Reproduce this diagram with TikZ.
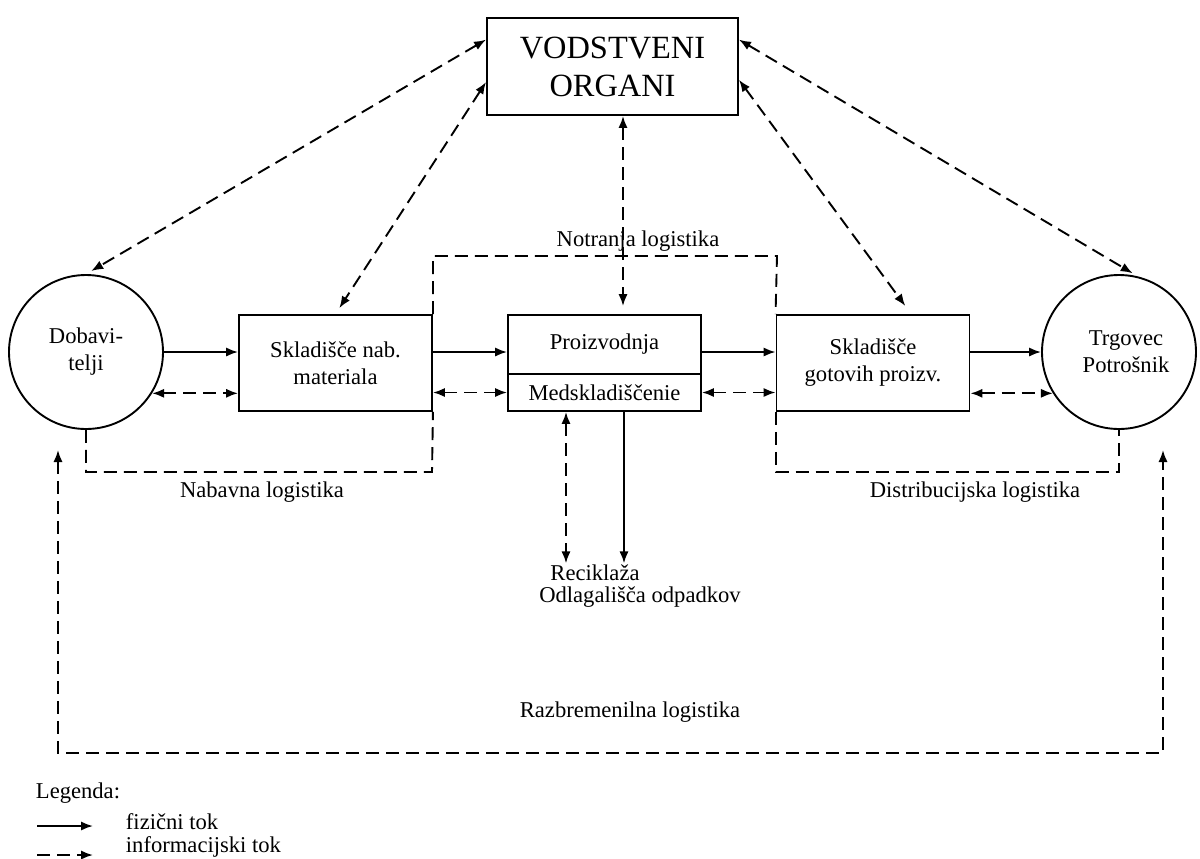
\documentclass[tikz,border=0pt]{standalone}
\usepackage{fontspec}
\setmainfont{Liberation Serif}
\usetikzlibrary{arrows.meta}
\newcommand{\lbltxt}{\fontsize{11.3}{13.5}\selectfont}

\begin{document}
\begin{tikzpicture}[x=0.5pt,y=-0.5pt,line width=0.95pt,
  >={Latex[length=6pt,width=4.6pt]},
  box/.style={draw,rectangle,align=center,minimum width=96.5pt,inner sep=2pt,font=\lbltxt},
  ring/.style={draw,circle,align=center,minimum size=77pt,inner sep=0pt,font=\lbltxt},
  bigbox/.style={draw,rectangle,align=center,minimum width=125.5pt,minimum height=48.5pt,
    inner sep=0pt,font=\fontsize{16.2}{19}\selectfont},
  lbl/.style={inner sep=0pt,font=\lbltxt},
  flow/.style={->},
  info/.style={dash pattern=on 6.5pt off 3.5pt}]
  \useasboundingbox (0,0) rectangle (1200,858);

  \node[bigbox] (vod) at (612.5,66.5) {VODSTVENI\\ORGANI}; % management
  \node[ring] (dob) at (86,352) {Dobavi-\\telji}; % suppliers
  \node[box,minimum height=48pt] (skl1) at (335.5,363) {Skladišče nab.\\materiala};
  \node[box,minimum height=29.5pt] (proiz) at (604.5,344.5) {Proizvodnja};
  \node[box,minimum height=18.5pt] (med) at (604.5,392.5) {Medskladiščenie};
  \node[box,minimum height=48pt] (skl2) at (873,363) {Skladišče\\gotovih proizv.};
  \node[ring] (trg) at (1119,352) {\hspace*{7pt}Trgovec\\\hspace*{7pt}Potrošnik}; % customers

  \node[lbl] (notr) at (638,241) {Notranja logistika};
  \node[lbl] (nab) at (262,492) {Nabavna logistika};
  \node[lbl] (dis) at (975,492) {Distribucijska logistika};
  \node[lbl,anchor=base] (rec) at (595,580) {Reciklaža};
  \node[lbl,anchor=base] (odl) at (640,602) {Odlagališča odpadkov};
  \node[lbl] (raz) at (630,712) {Razbremenilna logistika};

  \node[lbl,anchor=west] (leg) at (35,793) {Legenda:};
  \node[lbl,anchor=west] (fiz) at (125,822) {fizični tok};
  \node[lbl,anchor=west] (inf) at (125,847) {informacijski tok};

  % physical flow
  \draw[flow] (dob.east) -- (dob.east -| skl1.west);
  \draw[flow] (skl1.east |- dob.east) -- (proiz.west |- dob.east);
  \draw[flow] (proiz.east |- dob.east) -- (skl2.west |- dob.east);
  \draw[flow] (skl2.east |- trg.west) -- (trg.west);

  % information flow
  \draw[info,<->] (dob.-32) -- (dob.-32 -| skl1.west);
  \draw[info,<->] (skl1.east |- med.west) -- (med.west);
  \draw[info,<->] (med.east) -- (med.east -| skl2.west);
  \draw[info,<->] (skl2.east |- trg.-148) -- (trg.-148);

  % to and from management
  \draw[info,<->,shorten >=3pt] (vod.168) -- (dob.north);
  \draw[info,<->,shorten >=3.5pt] (vod.187) -- (skl1.north);
  \coordinate (vodS) at ([xshift=5.25pt]vod.south);
  \coordinate (proN) at ([xshift=9.25pt]proiz.north);
  \draw[info,<->,shorten >=4pt] (vodS) -- (proN);
  \draw[info,<->,shorten >=5pt] (vod.-6) -- (skl2.52);
  \draw[info,<->,shorten >=3pt] (vod.12) -- (trg.76);

  % logistics brackets
  \coordinate (notR) at (777,256);
  \draw[info] (skl1.north east) |- (notR) -- (skl2.north west);
  \coordinate (nabR) at (432,472);
  \draw[info] (dob.south) |- (nabR) -- (skl1.south east);
  \coordinate (disR) at (1119,472);
  \draw[info] (skl2.south west) |- (disR) -- (trg.south);

  % recycling and waste
  \coordinate (medL) at ([xshift=-19.25pt]med.south);
  \coordinate (medR) at ([xshift=9.75pt]med.south);
  \draw[info,<->] (medL) -- (medL |- rec.north);
  \draw[flow] (medR) -- (medR |- rec.north);

  % reverse logistics
  \coordinate (razA) at (58,450);
  \coordinate (razB) at (1163,450);
  \coordinate (razC) at (610,753);
  \draw[info,<->] (razA) |- (razC) -| (razB);

  % legend
  \coordinate (legA) at (37,826);
  \coordinate (legB) at (93,826);
  \coordinate (legC) at (37,855);
  \coordinate (legD) at (93,855);
  \draw[flow] (legA) -- (legB);
  \draw[info,->] (legC) -- (legD);
\end{tikzpicture}
\end{document}
